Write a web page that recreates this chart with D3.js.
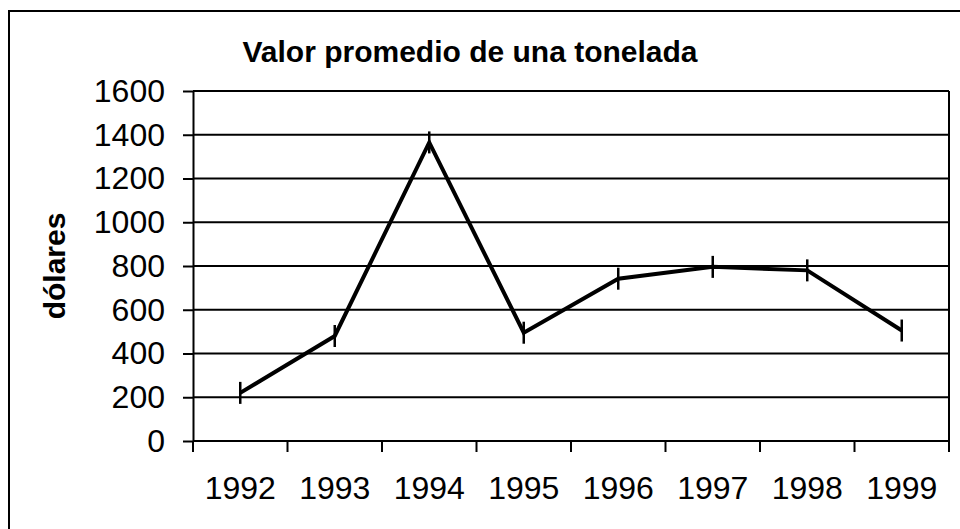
<!DOCTYPE html>
<html>
<head>
<meta charset="utf-8">
<script src="https://cdn.jsdelivr.net/npm/d3@7"></script>
<style>
  body { margin: 0; background: #fff; }
  svg { display: block; font-family: "Liberation Sans", Arial, sans-serif; }
</style>
</head>
<body>
<div id="chart"></div>
<script>
// chart data
const years = ["1992", "1993", "1994", "1995", "1996", "1997", "1998", "1999"];
const values = [220, 480, 1365, 495, 742, 796, 780, 505];
const yTicks = [0, 200, 400, 600, 800, 1000, 1200, 1400, 1600];

const title = "Valor promedio de una tonelada";
const yTitle = "dólares";

const width = 960, height = 529;
const plot = { left: 193, right: 949, top: 91, bottom: 441 };

const svg = d3.select("#chart")
    .append("svg")
    .attr("width", width)
    .attr("height", height);

// outer frame (runs off the right and bottom edge)
svg.append("rect")
    .attr("x", 9)
    .attr("y", 11)
    .attr("width", 960)
    .attr("height", 540)
    .attr("fill", "#fff")
    .attr("stroke", "#000")
    .attr("stroke-width", 2);

const x = d3.scaleBand()
    .domain(years)
    .range([plot.left, plot.right]);

const y = d3.scaleLinear()
    .domain([0, 1600])
    .range([plot.bottom, plot.top]);

// horizontal gridlines
svg.append("g")
    .selectAll("line")
    .data(yTicks)
    .join("line")
    .attr("x1", plot.left)
    .attr("x2", plot.right)
    .attr("y1", (d) => y(d))
    .attr("y2", (d) => y(d))
    .attr("stroke", "#000")
    .attr("stroke-width", 2);

// right border of plot area
svg.append("line")
    .attr("x1", plot.right)
    .attr("x2", plot.right)
    .attr("y1", plot.top)
    .attr("y2", plot.bottom)
    .attr("stroke", "#000")
    .attr("stroke-width", 2);

// y axis
const yAxis = svg.append("g")
    .attr("transform", `translate(${plot.left},0)`)
    .call(d3.axisLeft(y).tickValues(yTicks).tickFormat(d3.format("d"))
        .tickSizeInner(10).tickSizeOuter(0).tickPadding(18));
yAxis.select(".domain").attr("stroke-width", 2);
yAxis.selectAll(".tick line").attr("stroke-width", 2);
yAxis.selectAll("text")
    .attr("font-size", 32)
    .attr("font-family", "Liberation Sans, Arial, sans-serif")
    .attr("fill", "#000");

// x axis: labels centred in bands, ticks on band edges
const xAxis = svg.append("g")
    .attr("transform", `translate(0,${plot.bottom})`)
    .call(d3.axisBottom(x).tickSize(0).tickPadding(35));
xAxis.select(".domain").remove();
xAxis.selectAll("text")
    .attr("font-size", 32)
    .attr("font-family", "Liberation Sans, Arial, sans-serif")
    .attr("fill", "#000");

svg.append("line")
    .attr("x1", plot.left)
    .attr("x2", plot.right)
    .attr("y1", plot.bottom)
    .attr("y2", plot.bottom)
    .attr("stroke", "#000")
    .attr("stroke-width", 2);

const edges = years.map((d) => x(d)).concat([x(years[years.length - 1]) + x.bandwidth()]);
svg.append("g")
    .selectAll("line")
    .data(edges)
    .join("line")
    .attr("x1", (d) => d)
    .attr("x2", (d) => d)
    .attr("y1", plot.bottom)
    .attr("y2", plot.bottom + 11)
    .attr("stroke", "#000")
    .attr("stroke-width", 2);

// data line
const cx = (d, i) => x(years[i]) + x.bandwidth() / 2;
const line = d3.line()
    .x((d, i) => cx(d, i))
    .y((d) => y(d));

svg.append("path")
    .datum(values)
    .attr("d", line)
    .attr("fill", "none")
    .attr("stroke", "#000")
    .attr("stroke-width", 4)
    .attr("stroke-linejoin", "miter");

// dash markers
svg.append("g")
    .selectAll("line")
    .data(values)
    .join("line")
    .attr("x1", (d, i) => cx(d, i))
    .attr("x2", (d, i) => cx(d, i))
    .attr("y1", (d) => y(d) - 11)
    .attr("y2", (d) => y(d) + 11)
    .attr("stroke", "#000")
    .attr("stroke-width", 2.5);

// titles
svg.append("text")
    .attr("x", 470)
    .attr("y", 62)
    .attr("text-anchor", "middle")
    .attr("font-size", 30)
    .attr("font-weight", "bold")
    .text(title);

svg.append("text")
    .attr("transform", `translate(65,${(plot.top + plot.bottom) / 2}) rotate(-90)`)
    .attr("text-anchor", "middle")
    .attr("font-size", 30)
    .attr("font-weight", "bold")
    .text(yTitle);
</script>
</body>
</html>
